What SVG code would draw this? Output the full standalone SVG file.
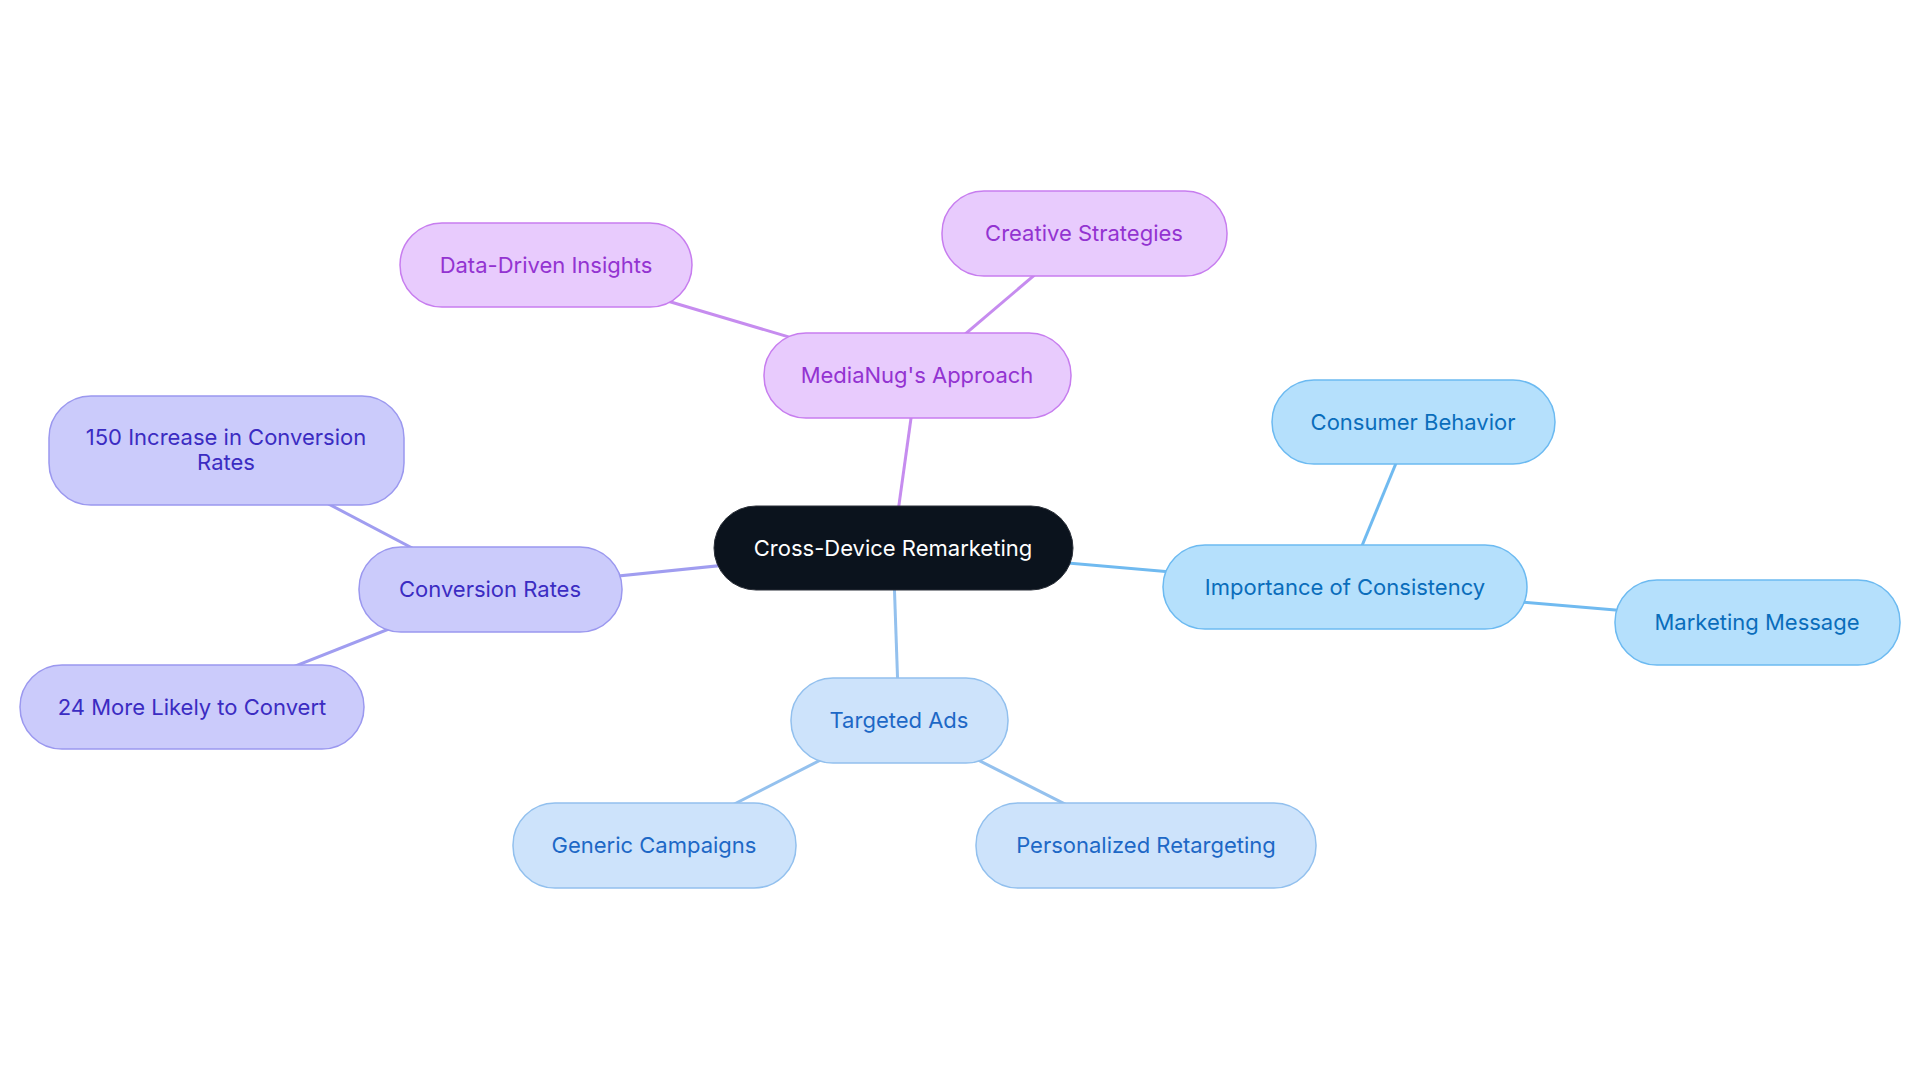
<svg xmlns="http://www.w3.org/2000/svg" width="1920" height="1083" viewBox="0 0 1920 1083">
<style>
text{font-family:Inter,"Noto Sans","Liberation Sans",sans-serif;font-size:22px;text-anchor:middle;dominant-baseline:central}
.p rect{fill:#E8CBFD;stroke:#C77DEF;stroke-width:1.5}.p text{fill:#9333D1}
.i rect{fill:#CBCBFB;stroke:#9B98EF;stroke-width:1.5}.i text{fill:#3B2CC2}
.b rect{fill:#B5E0FC;stroke:#6CBAF1;stroke-width:1.5}.b text{fill:#0A6DBB}
.t rect{fill:#CDE3FB;stroke:#92C0EE;stroke-width:1.5}.t text{fill:#1D68C6}
.e line{stroke-width:3}
</style>
<rect width="1920" height="1083" fill="#fff"/>
<g id="connectors" class="e">
<line x1="893" y1="548" x2="917" y2="375" stroke="#C68CEF"/>
<line x1="917" y1="375" x2="546" y2="265" stroke="#C68CEF"/>
<line x1="917" y1="375" x2="1084" y2="233" stroke="#C68CEF"/>
<line x1="893" y1="548" x2="1345" y2="587" stroke="#70BAF0"/>
<line x1="1345" y1="587" x2="1413" y2="422" stroke="#70BAF0"/>
<line x1="1345" y1="587" x2="1757" y2="622" stroke="#70BAF0"/>
<line x1="893" y1="548" x2="899" y2="720" stroke="#94C1EE"/>
<line x1="899" y1="720" x2="654" y2="845" stroke="#94C1EE"/>
<line x1="899" y1="720" x2="1146" y2="845" stroke="#94C1EE"/>
<line x1="893" y1="548" x2="490" y2="589" stroke="#A09DF0"/>
<line x1="490" y1="589" x2="226" y2="450" stroke="#A09DF0"/>
<line x1="490" y1="589" x2="192" y2="707" stroke="#A09DF0"/>
</g>
<g id="center"><rect x="714" y="506" width="359" height="84" rx="42" fill="#0B131D" stroke="#2a2f38"/><text x="893" y="548" fill="#fff">Cross-Device Remarketing</text></g>
<g id="medianug" class="p"><rect x="764" y="333" width="307" height="85" rx="42"/><text x="917" y="375">MediaNug's Approach</text></g>
<g id="datadriven" class="p"><rect x="400" y="223" width="292" height="84" rx="42"/><text x="546" y="265">Data-Driven Insights</text></g>
<g id="creative" class="p"><rect x="942" y="191" width="285" height="85" rx="42"/><text x="1084" y="233">Creative Strategies</text></g>
<g id="importance" class="b"><rect x="1163" y="545" width="364" height="84" rx="42"/><text x="1345" y="587">Importance of Consistency</text></g>
<g id="consumer" class="b"><rect x="1272" y="380" width="283" height="84" rx="42"/><text x="1413" y="422">Consumer Behavior</text></g>
<g id="marketing" class="b"><rect x="1615" y="580" width="285" height="85" rx="42"/><text x="1757" y="622">Marketing Message</text></g>
<g id="targeted" class="t"><rect x="791" y="678" width="217" height="85" rx="42"/><text x="899" y="720">Targeted Ads</text></g>
<g id="generic" class="t"><rect x="513" y="803" width="283" height="85" rx="42"/><text x="654" y="845">Generic Campaigns</text></g>
<g id="personalized" class="t"><rect x="976" y="803" width="340" height="85" rx="42"/><text x="1146" y="845">Personalized Retargeting</text></g>
<g id="conversion" class="i"><rect x="359" y="547" width="263" height="85" rx="42"/><text x="490" y="589">Conversion Rates</text></g>
<g id="increase" class="i"><rect x="49" y="396" width="355" height="109" rx="42"/><text x="226" y="437">150 Increase in Conversion</text><text x="226" y="462">Rates</text></g>
<g id="likely" class="i"><rect x="20" y="665" width="344" height="84" rx="42"/><text x="192" y="707">24 More Likely to Convert</text></g>
</svg>
